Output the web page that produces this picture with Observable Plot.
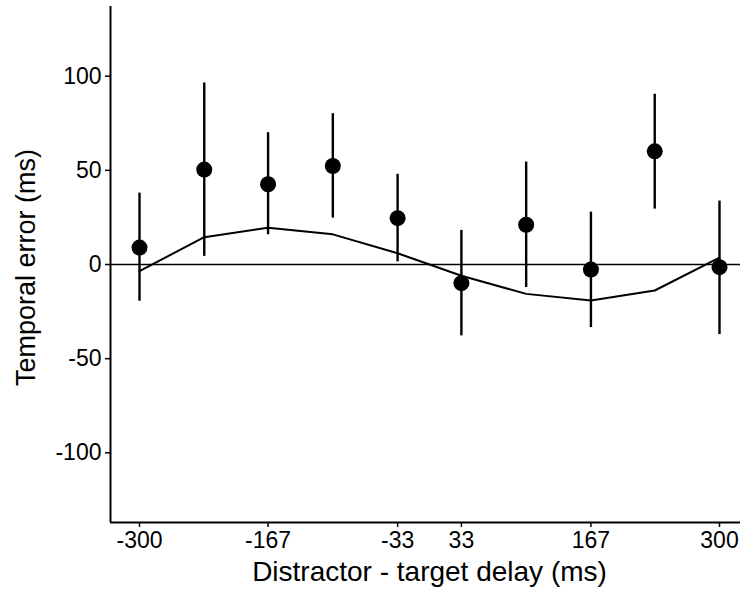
<!DOCTYPE html>
<html>
<head>
<meta charset="utf-8">
<script src="https://cdn.jsdelivr.net/npm/d3@7"></script>
<script src="https://cdn.jsdelivr.net/npm/@observablehq/plot@0.6"></script>
<style>
  html, body { margin: 0; padding: 0; background: #fff; }
  #chart { width: 740px; height: 590px; overflow: hidden; }
</style>
</head>
<body>
<div id="chart"></div>
<script>
const delays = [-300, -233, -167, -100, -33, 33, 100, 167, 233, 300];
const means  = [9, 50.4, 42.6, 52.3, 24.6, -9.9, 21.1, -2.7, 60.1, -1.4];
const upper  = [37.9, 96.4, 70, 80.1, 47.9, 18.1, 54.4, 27.8, 90.4, 33.7];
const lower  = [-19.5, 4.3, 15.8, 24.6, 1.4, -37.9, -12.2, -33.5, 29.4, -37.2];
const model  = [-3.5, 14.5, 19.5, 16, 6, -6, -15.6, -19.1, -13.8, 3.6];
const xTicks = [-300, -167, -33, 33, 167, 300];
const yTicks = [-100, -50, 0, 50, 100];
const xTitle = "Distractor - target delay (ms)";
const yTitle = "Temporal error (ms)";

const rows = delays.map((d, i) => ({delay: d, mean: means[i], hi: upper[i], lo: lower[i], model: model[i]}));
const xDomain = [-330, 330];
const yDomain = [-137, 137];
const font = "'Liberation Sans', Arial, Helvetica, sans-serif";

const chart = Plot.plot({
  width: 740,
  height: 590,
  marginLeft: 110,
  marginRight: -8,
  marginTop: 6,
  marginBottom: 68,
  style: {fontFamily: font, fontSize: "23px", color: "#000", background: "#fff", overflow: "hidden"},
  x: {domain: xDomain, ticks: xTicks},
  y: {domain: yDomain, ticks: yTicks},
  marks: [
    Plot.ruleY([0], {stroke: "#000", strokeWidth: 1.6}),
    Plot.line(rows, {x: "delay", y: "model", stroke: "#000", strokeWidth: 2}),
    Plot.ruleX(rows, {x: "delay", y1: "lo", y2: "hi", stroke: "#000", strokeWidth: 2.4}),
    Plot.dot(rows, {x: "delay", y: "mean", r: 8, fill: "#000", stroke: null}),
    Plot.ruleX([xDomain[0]], {stroke: "#000", strokeWidth: 2}),
    Plot.ruleY([yDomain[0]], {stroke: "#000", strokeWidth: 2}),
    Plot.axisX({ticks: xTicks, tickFormat: d => String(d), label: null, tickSize: 5, tickPadding: 4, fontSize: 23, stroke: "#000", strokeWidth: 1.5}),
    Plot.axisY({ticks: yTicks, tickFormat: d => String(d), label: null, tickSize: 5, tickPadding: 4, fontSize: 23, stroke: "#000", strokeWidth: 1.5}),
    Plot.text([xTitle], {frameAnchor: "bottom", dy: 58, fontSize: 28, fill: "#000"}),
    Plot.text([yTitle], {frameAnchor: "left", dx: -84, dy: 3, rotate: -90, textAnchor: "middle", fontSize: 27, fill: "#000"})
  ]
});
document.getElementById("chart").appendChild(chart);
</script>
</body>
</html>
